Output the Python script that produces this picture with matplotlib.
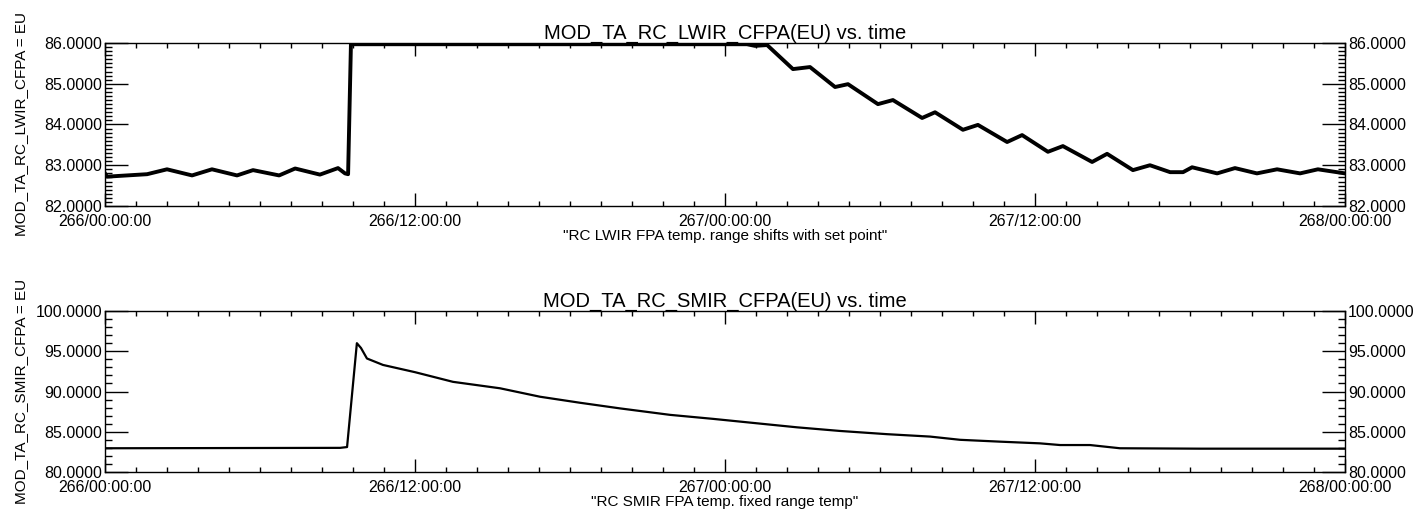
import matplotlib.pyplot as plt
from matplotlib.ticker import FixedLocator, MultipleLocator, FuncFormatter

plt.rcParams["font.family"] = ["Liberation Sans", "DejaVu Sans"]

# Hours since 266/00:00:00 and temperatures (EU)
lwir_hours = [0.0, 0.08, 1.63, 2.40, 3.37, 4.14, 5.11, 5.73, 6.74, 7.36, 8.32, 9.02,
              9.29, 9.41, 9.52, 24.85, 25.16, 25.63, 26.63, 27.29, 28.26, 28.76,
              29.92, 30.50, 31.63, 32.13, 33.21, 33.79, 34.92, 35.50, 36.50, 37.08,
              38.21, 38.79, 39.79, 40.45, 41.23, 41.73, 42.08, 43.05, 43.74, 44.59,
              45.37, 46.26, 46.95, 48.0]
lwir_temp = [82.80, 82.72, 82.78, 82.90, 82.75, 82.90, 82.75, 82.88, 82.75, 82.92, 82.77,
             82.93, 82.80, 82.78, 85.97, 85.97, 85.93, 85.95, 85.36, 85.41, 84.92, 84.99,
             84.50, 84.60, 84.16, 84.30, 83.87, 83.99, 83.57, 83.74, 83.33, 83.47,
             83.08, 83.28, 82.88, 83.00, 82.83, 82.83, 82.95, 82.80, 82.93, 82.80,
             82.90, 82.80, 82.90, 82.80]

smir_hours = [0.0, 9.10, 9.37, 9.75, 9.91, 10.14, 10.76, 12.0, 13.47, 15.29, 16.84,
              18.39, 19.94, 21.87, 23.54, 25.24, 26.79, 28.45, 30.27, 31.94, 33.10,
              34.65, 36.19, 36.97, 38.13, 39.29, 42.39, 48.0]
smir_temp = [82.95, 83.0, 83.1, 96.0, 95.4, 94.1, 93.3, 92.4, 91.2, 90.4, 89.35,
             88.6, 87.9, 87.1, 86.6, 86.05, 85.55, 85.1, 84.7, 84.4, 84.0,
             83.77, 83.56, 83.35, 83.35, 82.95, 82.9, 82.9]

time_ticks = [0, 12, 24, 36, 48]


def time_label(h, pos):
    day = 266 + int(h // 24)
    hr = int(round(h % 24))
    return "%d/%02d:00:00" % (day, hr)


fig = plt.figure(figsize=(14.17, 5.12), dpi=100)
ax1 = fig.add_axes([0.0741, 0.5977, 0.8751, 0.3183])
ax2 = fig.add_axes([0.0741, 0.0781, 0.8751, 0.3145])


def style_axis(ax, ylim, ymajor, yminor, title, ylabel, xlabel):
    ax.set_xlim(0, 48)
    ax.set_ylim(*ylim)
    ax.xaxis.set_major_locator(FixedLocator(time_ticks))
    ax.xaxis.set_minor_locator(MultipleLocator(1.2))
    ax.xaxis.set_major_formatter(FuncFormatter(time_label))
    ax.yaxis.set_major_locator(MultipleLocator(ymajor))
    ax.yaxis.set_minor_locator(MultipleLocator(yminor))
    ax.yaxis.set_major_formatter(FuncFormatter(lambda v, p: "%.4f" % v))
    ax.tick_params(axis="both", which="both", direction="in", top=True, right=True,
                   labelright=True, labelsize=11.5, colors="black", width=1)
    ax.tick_params(axis="x", which="major", length=9.5, pad=6)
    ax.tick_params(axis="x", which="minor", length=3.6)
    ax.tick_params(axis="y", which="major", length=16.5, pad=2)
    ax.tick_params(axis="y", which="minor", length=5)
    for lbl in ax.get_yticklabels() + ax.yaxis.get_ticklabels(which="major"):
        lbl.set_va("center_baseline")
    for s in ax.spines.values():
        s.set_linewidth(1.0)
    ax.set_title(title, fontsize=14.5, pad=3)
    ax.set_ylabel(ylabel, fontsize=11)
    ax.yaxis.set_label_coords(-0.062, 0.5)
    ax.set_xlabel(xlabel, fontsize=11, labelpad=0)


ax1.plot(lwir_hours, lwir_temp, color="black", lw=2.8, solid_joinstyle="round")
style_axis(ax1, (82, 86), 1, 0.1, "MOD_TA_RC_LWIR_CFPA(EU) vs. time",
           "MOD_TA_RC_LWIR_CFPA = EU", '"RC LWIR FPA temp. range shifts with set point"')

ax2.plot(smir_hours, smir_temp, color="black", lw=1.6)
style_axis(ax2, (80, 100), 5, 1, "MOD_TA_RC_SMIR_CFPA(EU) vs. time",
           "MOD_TA_RC_SMIR_CFPA = EU", '"RC SMIR FPA temp. fixed range temp"')

fig.savefig("out.png", dpi=100)
